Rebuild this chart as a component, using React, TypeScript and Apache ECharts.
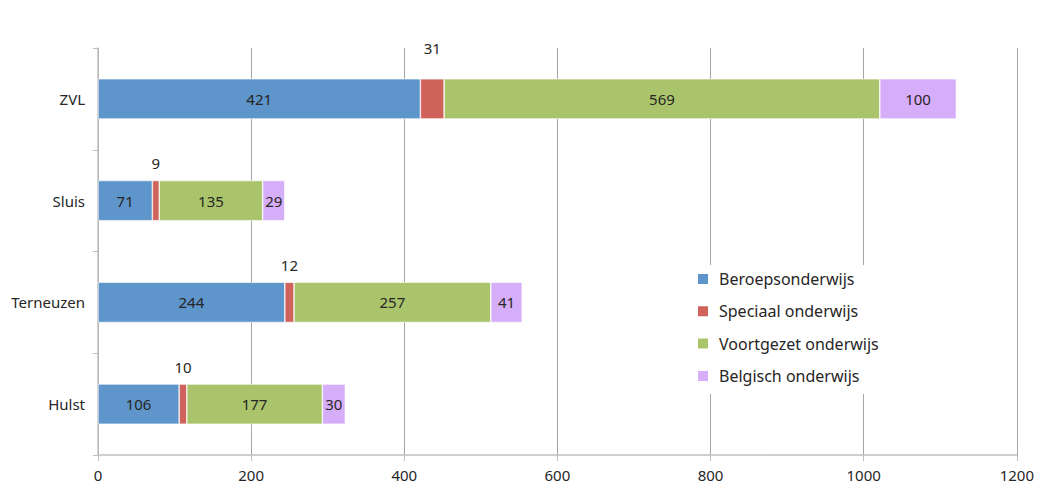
import React, { useEffect, useRef } from "react";
import * as echarts from "echarts";

const categories = ["Hulst", "Terneuzen", "Sluis", "ZVL"];
const beroeps = [106, 244, 71, 421];
const speciaal = [10, 12, 9, 31];
const voortgezet = [177, 257, 135, 569];
const belgisch = [30, 41, 29, 100];
const seriesNames = ["Beroepsonderwijs", "Speciaal onderwijs", "Voortgezet onderwijs", "Belgisch onderwijs"];
const colors = ["#5E95CA", "#CF635C", "#AAC46C", "#D6ADF8"];

const FONT = "'Noto Sans', 'Open Sans', sans-serif";

export default function App() {
  const ref = useRef<HTMLDivElement>(null);
  useEffect(() => {
    const chart = echarts.init(ref.current!, null, { renderer: "svg" });
    const insideLabel = {
      show: true,
      position: "inside",
      color: "#262626",
      fontSize: 15,
      fontFamily: FONT,
    };
    const data = [beroeps, speciaal, voortgezet, belgisch];
    chart.setOption({
      animation: false,
      color: colors,
      textStyle: { fontFamily: FONT },
      grid: { left: 98, right: 19, top: 48, bottom: 28 },
      legend: {
        orient: "vertical",
        left: 690,
        top: 265,
        itemWidth: 12,
        itemHeight: 12,
        itemGap: 16.3,
        padding: [6, 12, 10, 6],
        backgroundColor: "#ffffff",
        icon: "rect",
        textStyle: { fontSize: 16, color: "#262626", fontFamily: FONT, padding: [0, 0, 0, 5] },
        data: seriesNames,
      },
      xAxis: {
        type: "value",
        min: 0,
        max: 1200,
        interval: 200,
        axisLine: { show: true, lineStyle: { color: "#BFBFBF", width: 1.5 } },
        axisTick: { show: true, length: 6, lineStyle: { color: "#BFBFBF" } },
        splitLine: { show: true, lineStyle: { color: "#A6A6A6", width: 1 } },
        axisLabel: { color: "#262626", fontSize: 15, margin: 12, fontFamily: FONT, formatter: (v: number) => String(v) },
      },
      yAxis: {
        type: "category",
        data: categories,
        axisLine: { show: true, lineStyle: { color: "#BFBFBF", width: 1.5 } },
        axisTick: { show: true, length: 5, lineStyle: { color: "#BFBFBF" } },
        axisLabel: { color: "#262626", fontSize: 15, margin: 13, fontFamily: FONT },
      },
      series: seriesNames.map((name, i) => ({
        name,
        type: "bar",
        stack: "total",
        barWidth: "39.5%",
        data:
          i === 1
            ? data[i].map((v, j) => (j === 3 ? { value: v, label: { distance: 23 } } : v))
            : data[i],
        itemStyle: { color: colors[i], borderColor: "#ffffff", borderWidth: 0.6 },
        label:
          i === 1
            ? { show: true, position: "top", distance: 10, color: "#262626", fontSize: 15, fontFamily: FONT }
            : insideLabel,
      })),
    });
    return () => chart.dispose();
  }, []);
  return <div ref={ref} style={{ width: 1037, height: 483, position: "absolute", left: 0, top: 0 }} />;
}
